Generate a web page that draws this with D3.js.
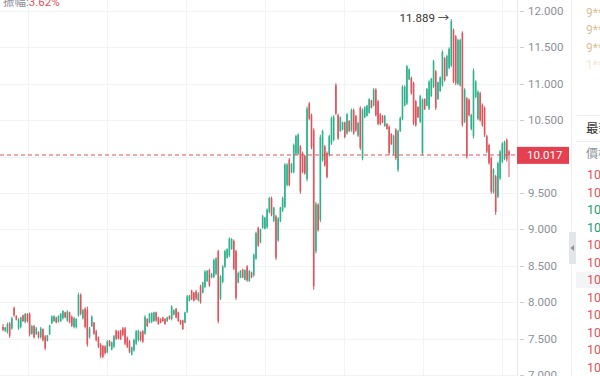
<!DOCTYPE html>
<html>
<head>
<meta charset="utf-8">
<script src="https://cdn.jsdelivr.net/npm/d3@7"></script>
<style>
body { margin: 0; background: #fff; overflow: hidden; }
text { font-family: Roboto, "Noto Sans CJK TC", sans-serif; }
</style>
</head>
<body>
<div id="chart"></div>
<script>
// [open, high, low, close]
var candles = [
[7.66,7.70,7.60,7.62],
[7.61,7.66,7.59,7.65],[7.59,7.72,7.57,7.70],[7.71,7.73,7.51,7.54],[7.64,7.80,7.62,7.78],[7.92,7.94,7.80,7.82],
[7.81,7.82,7.75,7.76],[7.64,7.78,7.62,7.76],[7.66,7.80,7.64,7.79],[7.82,7.83,7.73,7.74],[7.73,7.85,7.71,7.84],
[7.84,7.85,7.72,7.74],[7.84,7.86,7.53,7.56],[7.57,7.69,7.55,7.67],[7.67,7.69,7.50,7.52],[7.56,7.66,7.55,7.64],
[7.59,7.60,7.50,7.52],[7.52,7.66,7.50,7.64],[7.63,7.64,7.46,7.48],[7.53,7.55,7.34,7.37],[7.47,7.55,7.46,7.54],
[7.56,7.69,7.55,7.68],[7.71,7.82,7.70,7.80],[7.74,7.82,7.73,7.81],[7.79,7.80,7.71,7.72],[7.73,7.82,7.72,7.81],
[7.74,7.85,7.73,7.84],[7.78,7.89,7.76,7.88],[7.86,7.87,7.78,7.79],[7.75,7.89,7.73,7.87],[7.86,7.87,7.71,7.73],
[7.80,7.82,7.66,7.68],[7.66,7.80,7.64,7.78],[7.66,7.78,7.64,7.77],[7.82,8.13,7.80,8.10],[8.10,8.12,7.82,7.84],
[7.78,7.91,7.76,7.89],[7.91,7.93,7.64,7.66],[7.90,7.94,7.39,7.42],[7.52,7.66,7.50,7.64],[7.67,7.82,7.66,7.80],
[7.72,7.73,7.55,7.57],[7.60,7.62,7.46,7.48],[7.52,7.53,7.37,7.39],[7.42,7.44,7.23,7.26],[7.40,7.41,7.23,7.25],
[7.39,7.41,7.28,7.30],[7.31,7.48,7.30,7.46],[7.47,7.48,7.39,7.40],[7.35,7.46,7.34,7.45],[7.39,7.55,7.37,7.53],
[7.61,7.62,7.48,7.50],[7.60,7.61,7.49,7.50],[7.61,7.62,7.48,7.49],[7.64,7.66,7.53,7.55],[7.64,7.66,7.41,7.43],
[7.51,7.53,7.37,7.39],[7.46,7.48,7.30,7.32],[7.28,7.39,7.27,7.38],[7.34,7.50,7.32,7.48],[7.43,7.62,7.41,7.60],
[7.48,7.62,7.46,7.61],[7.59,7.60,7.46,7.48],[7.60,7.62,7.44,7.46],[7.57,7.82,7.55,7.80],[7.77,7.78,7.66,7.67],
[7.72,7.85,7.71,7.84],[7.73,7.86,7.71,7.85],[7.74,7.87,7.73,7.86],[7.86,7.87,7.73,7.75],[7.79,7.80,7.69,7.70],
[7.77,7.78,7.71,7.72],[7.79,7.80,7.73,7.74],[7.77,7.78,7.69,7.70],[7.74,7.80,7.73,7.79],[7.81,7.82,7.76,7.77],
[7.77,7.96,7.75,7.94],[7.83,7.90,7.82,7.89],[7.91,7.92,7.78,7.79],[7.86,7.87,7.73,7.74],[7.75,7.76,7.69,7.70],
[7.75,7.76,7.62,7.63],[7.72,7.87,7.71,7.86],[7.87,8.10,7.85,8.08],[8.02,8.10,8.01,8.09],[8.16,8.17,8.03,8.04],
[8.13,8.14,8.01,8.02],[8.15,8.17,8.03,8.05],[8.03,8.14,8.01,8.12],[8.22,8.24,7.98,8.00],[8.13,8.28,8.12,8.27],
[8.21,8.44,8.19,8.42],[8.29,8.44,8.28,8.43],[8.44,8.46,8.21,8.23],[8.34,8.40,8.33,8.39],[8.35,8.60,8.33,8.58],
[8.39,8.62,8.37,8.60],[8.70,8.72,7.71,7.74],[8.05,8.37,8.03,8.35],[8.28,8.51,8.26,8.49],[8.49,8.72,8.47,8.70],
[8.61,8.74,8.60,8.73],[8.64,8.89,8.62,8.87],[8.73,8.88,8.72,8.87],[8.84,8.86,8.44,8.46],[8.70,8.72,8.03,8.06],
[8.27,8.42,8.26,8.40],[8.34,8.44,8.33,8.43],[8.45,8.46,8.33,8.34],[8.31,8.45,8.30,8.44],[8.49,8.51,8.28,8.30],
[8.29,8.44,8.28,8.43],[8.41,8.42,8.33,8.34],[8.37,8.67,8.35,8.65],[8.60,8.97,8.58,8.95],[9.02,9.04,8.76,8.78],
[8.82,9.01,8.81,9.00],[9.02,9.20,9.01,9.18],[9.01,9.17,9.00,9.16],[9.03,9.29,9.01,9.27],[9.24,9.45,9.22,9.43],
[9.43,9.45,9.18,9.20],[9.12,9.31,9.10,9.30],[9.18,9.20,8.58,8.61],[8.85,9.17,8.83,9.15],[9.11,9.31,9.10,9.30],
[9.26,9.45,9.24,9.43],[9.31,9.91,9.29,9.89],[9.61,9.91,9.59,9.89],[9.96,9.98,9.59,9.61],[9.78,9.91,9.77,9.90],
[9.79,10.18,9.77,10.16],[10.04,10.30,10.02,10.28],[10.04,10.32,10.02,10.30],[10.14,10.16,9.49,9.52],[10.05,10.07,9.77,9.79],
[10.01,10.02,9.75,9.77],[9.69,10.69,9.66,10.66],[10.73,10.75,10.50,10.52],[10.57,10.59,10.10,10.13],[10.36,10.39,8.17,8.22],
[8.70,9.38,8.67,9.35],[9.34,9.36,8.97,8.99],[9.13,10.30,9.10,10.27],[9.95,10.37,9.93,10.35],[10.14,10.16,9.86,9.88],
[10.05,10.07,9.70,9.72],[10.02,10.30,10.00,10.28],[10.18,10.55,10.16,10.53],[10.23,10.57,10.21,10.55],[10.98,11.01,10.57,10.59],
[10.57,10.59,10.23,10.25],[10.35,10.55,10.34,10.54],[10.37,10.48,10.36,10.47],[10.47,10.48,10.25,10.27],[10.32,10.60,10.30,10.58],
[10.49,10.50,10.34,10.35],[10.36,10.66,10.34,10.64],[10.64,10.66,10.30,10.32],[10.56,10.57,10.34,10.36],[10.29,10.48,10.27,10.46],
[10.67,10.69,10.09,10.12],[9.98,10.66,9.95,10.64],[10.54,10.69,10.53,10.68],[10.56,10.71,10.55,10.70],[10.60,10.80,10.59,10.79],
[10.77,10.78,10.66,10.67],[10.70,10.94,10.69,10.92],[10.92,10.94,10.55,10.57],[10.76,10.78,10.43,10.45],
[10.58,10.60,10.43,10.45],[10.56,10.57,10.46,10.47],[10.42,10.57,10.41,10.56],[10.45,10.46,10.37,10.38],[10.41,10.43,10.02,10.05],
[10.31,10.32,10.16,10.17],[10.04,10.30,10.02,10.28],[10.37,10.39,9.95,9.98],[9.82,10.37,9.79,10.35],[10.35,10.55,10.34,10.53],
[10.52,10.98,10.50,10.96],[10.70,10.98,10.69,10.96],[10.73,11.26,10.71,11.24],[11.06,11.21,11.05,11.20],[11.08,11.10,10.85,10.87],
[11.01,11.03,10.43,10.46],[10.76,10.78,10.41,10.43],[10.68,10.69,10.53,10.54],[10.48,10.85,10.46,10.83],[10.05,10.80,10.02,10.78],
[10.79,10.80,10.64,10.65],[10.70,10.94,10.69,10.93],[10.66,11.05,10.64,11.03],[10.83,11.08,10.82,11.07],[10.96,11.33,10.94,11.31],
[11.17,11.19,10.64,10.67],[10.79,11.03,10.78,11.02],[10.90,11.10,10.89,11.09],[10.98,11.46,10.96,11.44],[11.35,11.37,11.03,11.05],
[11.11,11.40,11.10,11.38],[11.22,11.50,11.20,11.48],[11.25,11.889,11.23,11.86],[11.74,11.76,11.01,11.04],[11.65,11.67,10.98,11.01],
[11.00,11.62,10.98,11.60],[10.98,11.62,10.96,11.60],[11.70,11.72,10.41,10.44],[10.48,10.94,10.46,10.92],[10.80,10.82,9.97,10.00],
[10.78,10.80,10.55,10.57],[10.38,10.59,10.36,10.57],[10.28,11.21,10.25,11.18],[10.82,11.05,10.80,11.03],[10.52,10.91,10.50,10.89],
[10.87,10.89,10.48,10.50],[10.71,10.73,10.41,10.43],[10.67,10.69,10.27,10.30],[10.28,10.30,10.05,10.07],
[10.16,10.18,9.89,9.91],[9.98,10.00,9.49,9.52],[9.51,9.84,9.49,9.82],[9.73,9.75,9.20,9.24],[9.45,9.93,9.43,9.91],
[9.70,10.09,9.68,10.07],[9.93,10.20,9.91,10.18],[9.97,10.22,9.95,10.20],[10.23,10.25,9.93,9.96],[10.07,10.09,9.72,10.017]
];
var yTicks = [7, 7.5, 8, 8.5, 9, 9.5, 10, 10.5, 11, 11.5, 12];
var gridIdx = [11.3, 46.9, 82.5, 118.1, 153.7, 189.3, 224.9];
var lastPrice = 10.017;
var peakIdx = 202, peakPrice = 11.889;
var amplitude = "3.62%";
var topUsers = ["9**", "9**", "9**", "1**"];
var tradePrices = ["10.017", "10.017", "10.016", "10.016", "10.017", "10.017", "10.017", "10.017", "10.017", "10.017", "10.017", "10.017"];
var tradeSide = ["s", "s", "b", "b", "s", "s", "s", "s", "s", "s", "s", "s"];

var W = 600, H = 376, plotRight = 517;
var green = "#2eb28c", red = "#e0525c";

var svg = d3.select("#chart").append("svg")
    .attr("width", W).attr("height", H);

var x = d3.scaleLinear().domain([0, candles.length - 1]).range([3, 509]);
var y = d3.scaleLinear().domain([7, 12]).range([375, 11]);

// grid
var grid = svg.append("g");
grid.selectAll(".hg").data(yTicks).join("line")
    .attr("x1", 0).attr("x2", plotRight)
    .attr("y1", d => Math.round(y(d)) + 0.5).attr("y2", d => Math.round(y(d)) + 0.5)
    .attr("stroke", "#f2f3f5");
grid.selectAll(".vg").data(gridIdx).join("line")
    .attr("x1", d => Math.round(x(d)) + 0.5).attr("x2", d => Math.round(x(d)) + 0.5)
    .attr("y1", 0).attr("y2", H)
    .attr("stroke", "#f2f3f5");

// candles
var cg = svg.append("g");
cg.selectAll("line").data(candles).join("line")
    .attr("x1", (d, i) => x(i)).attr("x2", (d, i) => x(i))
    .attr("y1", d => y(d[1])).attr("y2", d => y(d[2]))
    .attr("stroke", d => d[3] >= d[0] ? green : red)
    .attr("stroke-width", 1);
cg.selectAll("rect").data(candles).join("rect")
    .attr("x", (d, i) => x(i) - 0.8).attr("width", 1.6)
    .attr("y", d => y(Math.max(d[0], d[3])))
    .attr("height", d => Math.max(1, Math.abs(y(d[0]) - y(d[3]))))
    .attr("fill", d => d[3] >= d[0] ? green : red);

// last price line
svg.append("line")
    .attr("x1", 0).attr("x2", plotRight + 6)
    .attr("y1", Math.round(y(lastPrice))).attr("y2", Math.round(y(lastPrice)))
    .attr("stroke", "#e0505b").attr("stroke-width", 1.1)
    .attr("stroke-dasharray", "4,3");

// axis
svg.append("line").attr("x1", plotRight + 0.5).attr("x2", plotRight + 0.5)
    .attr("y1", 0).attr("y2", H).attr("stroke", "#e6e8eb");
var axis = svg.append("g");
axis.selectAll("line").data(yTicks.filter(d => d !== 10)).join("line")
    .attr("x1", plotRight + 3).attr("x2", plotRight + 7)
    .attr("y1", d => Math.round(y(d)) + 0.5).attr("y2", d => Math.round(y(d)) + 0.5)
    .attr("stroke", "#c9cdd3");
axis.selectAll("text").data(yTicks.filter(d => d !== 10)).join("text")
    .attr("x", plotRight + 11).attr("y", d => y(d) + 4)
    .attr("font-size", 11.5).attr("fill", "#8b9099")
    .text(d => d3.format(".3f")(d));

// last price tag
svg.append("rect").attr("x", plotRight).attr("y", y(lastPrice) - 8.5)
    .attr("width", 52).attr("height", 17).attr("fill", "#e5404f");
svg.append("text").attr("x", plotRight + 10).attr("y", y(lastPrice) + 4)
    .attr("font-size", 11.5).attr("fill", "#fff").text(d3.format(".3f")(lastPrice));

// peak marker
svg.append("text").attr("x", x(peakIdx) - 2).attr("y", y(peakPrice) + 3)
    .attr("text-anchor", "end").attr("font-size", 11.5).attr("fill", "#333")
    .text(d3.format(".3f")(peakPrice) + " \u2192");

// amplitude
var amp = svg.append("text").attr("x", 3).attr("y", 6).attr("font-size", 11.5);
amp.append("tspan").attr("fill", "#8b9099").text("振幅:");
amp.append("tspan").attr("fill", red).text(amplitude);

// side panel
var panel = svg.append("g");
panel.append("rect").attr("x", 571).attr("y", 0).attr("width", 29).attr("height", H).attr("fill", "#fff");
panel.append("line").attr("x1", 571.5).attr("x2", 571.5).attr("y1", 0).attr("y2", H).attr("stroke", "#eceef1");
panel.selectAll(".usr").data(topUsers).join("text")
    .attr("x", 586).attr("y", (d, i) => 17 + i * 17.3)
    .attr("font-size", 12)
    .attr("fill", (d, i) => i < 3 ? "#d6c39c" : "#efe7d6")
    .text(d => d);
panel.append("line").attr("x1", 576).attr("x2", W).attr("y1", 115.5).attr("y2", 115.5).attr("stroke", "#eceef1");
panel.append("text").attr("x", 586).attr("y", 133).attr("font-size", 12.5).attr("fill", "#333").text("最新成交");
panel.append("line").attr("x1", 576).attr("x2", W).attr("y1", 141.5).attr("y2", 141.5).attr("stroke", "#eceef1");
panel.append("text").attr("x", 586).attr("y", 158).attr("font-size", 12).attr("fill", "#8b9099").text("價格");
panel.append("rect").attr("x", 576).attr("y", 272).attr("width", 24).attr("height", 16).attr("fill", "#f3f4f6");
panel.selectAll(".tp").data(tradePrices).join("text")
    .attr("x", 587).attr("y", (d, i) => 179 + i * 17.5)
    .attr("font-size", 12.5)
    .attr("fill", (d, i) => tradeSide[i] === "b" ? "#1a9e78" : red)
    .text(d => d);
// collapse tab
panel.append("rect").attr("x", 569).attr("y", 232).attr("width", 7).attr("height", 32).attr("fill", "#e3e5e8");
panel.append("path").attr("d", "M570.5,248 L574,245 L574,251 Z").attr("fill", "#8c9099");
</script>
</body>
</html>
